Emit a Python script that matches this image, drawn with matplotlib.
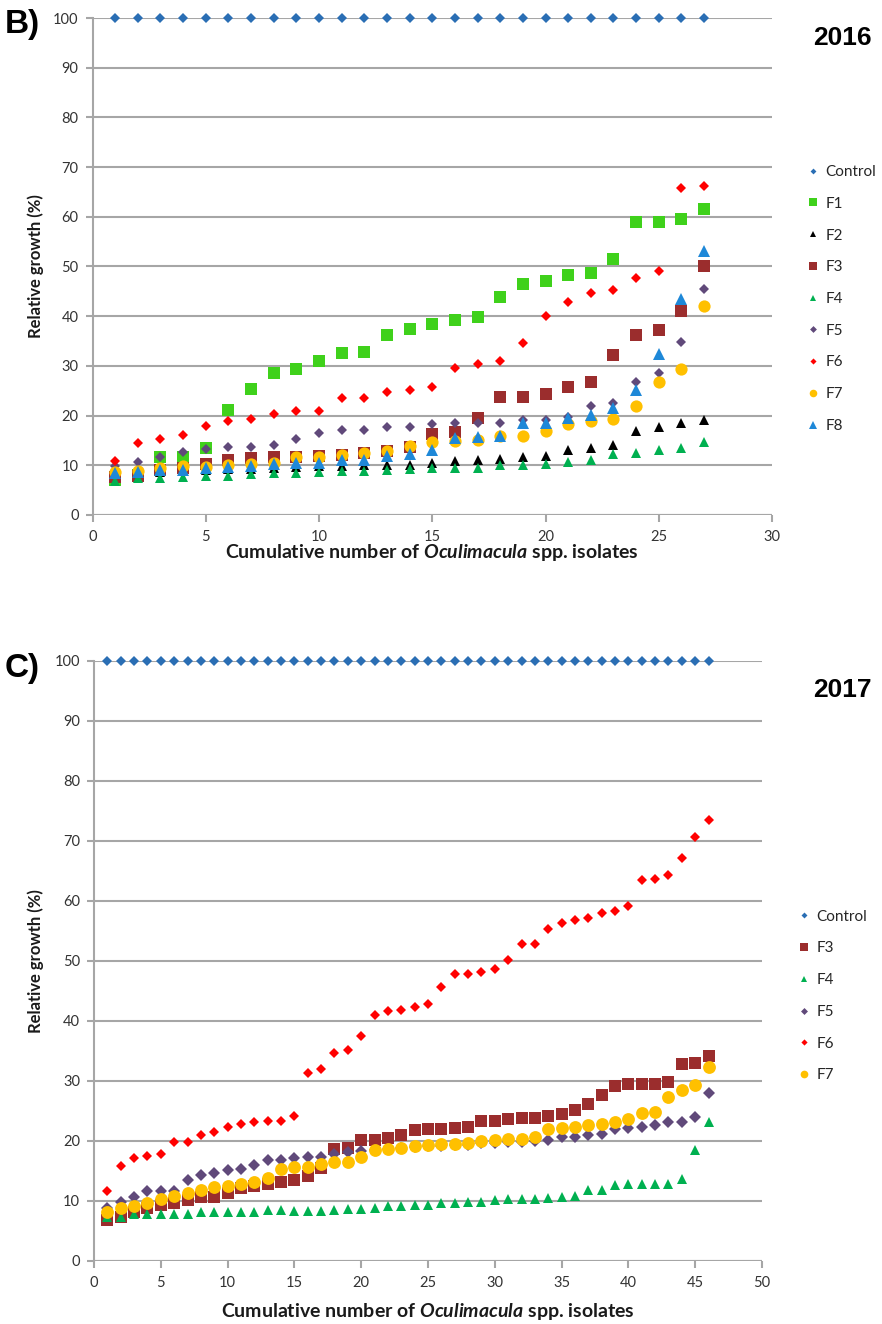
import numpy as np
import matplotlib
matplotlib.use("Agg")
import matplotlib.pyplot as plt

plt.rcParams['font.family'] = ['Lato', 'DejaVu Sans']
# bold italic genus name inside the bold axis title
plt.rcParams['mathtext.fontset'] = 'custom'
plt.rcParams['mathtext.it'] = 'Lato:italic:bold'
plt.rcParams['mathtext.rm'] = 'Lato:bold'

# ---- 2016 isolates ----
control_2016 = [100] * 27
f1_2016 = [7.0, 8.1, 11.6, 11.6, 13.4, 21.2, 25.3, 28.5, 29.3, 30.9, 32.5, 32.8, 36.2, 37.5,
           38.5, 39.3, 39.8, 43.8, 46.5, 47.0, 48.3, 48.7, 51.5, 58.9, 58.9, 59.5, 61.5]
f2_2016 = [8.0, 8.3, 8.6, 8.8, 9.0, 9.2, 9.3, 9.5, 9.6, 9.8, 9.9, 10.0, 10.1, 10.1,
           10.5, 10.8, 11.0, 11.2, 11.7, 11.9, 13.0, 13.5, 14.0, 17.0, 17.8, 18.5, 19.1]
f3_2016 = [7.7, 7.9, 9.1, 9.4, 10.3, 11.1, 11.4, 11.7, 11.7, 11.9, 12.1, 12.4, 12.8, 13.6,
           16.3, 16.6, 19.6, 23.7, 23.7, 24.3, 25.8, 26.8, 32.1, 36.2, 37.2, 41.0, 50.0]
f4_2016 = [6.9, 7.4, 7.4, 7.7, 7.9, 7.9, 8.2, 8.4, 8.5, 8.6, 8.9, 8.9, 9.1, 9.2,
           9.5, 9.5, 9.5, 10.0, 10.1, 10.3, 10.7, 11.1, 12.2, 12.5, 13.0, 13.5, 14.6]
f5_2016 = [9.9, 10.7, 11.6, 12.6, 13.2, 13.6, 13.6, 14.1, 15.2, 16.4, 17.1, 17.1, 17.8, 17.8,
           18.3, 18.5, 18.5, 18.5, 19.1, 19.1, 19.8, 21.9, 22.6, 26.8, 28.6, 34.8, 45.4]
f6_2016 = [10.9, 14.4, 15.3, 16.1, 17.9, 19.0, 19.3, 20.4, 20.9, 20.9, 23.5, 23.5, 24.8, 25.2,
           25.7, 29.6, 30.3, 30.9, 34.6, 40.1, 42.8, 44.7, 45.2, 47.7, 49.0, 65.7, 66.1]
f7_2016 = [8.7, 8.9, 9.4, 9.9, 9.7, 10.1, 10.3, 10.5, 11.7, 11.7, 12.1, 12.4, 12.8, 13.8,
           14.6, 14.8, 15.1, 15.8, 15.8, 16.9, 18.3, 18.9, 19.3, 22.0, 26.8, 29.3, 42.0]
f8_2016 = [8.4, 8.7, 9.1, 9.1, 9.4, 9.7, 9.9, 10.3, 10.4, 10.5, 11.1, 11.1, 11.9, 12.3,
           13.1, 15.5, 15.6, 15.8, 18.6, 18.6, 19.6, 20.1, 21.6, 25.2, 32.3, 43.4, 53.1]

# ---- 2017 isolates ----
control_2017 = [100] * 46
f3_2017 = [6.9, 7.4, 8.2, 8.8, 9.3, 9.6, 10.2, 10.6, 10.6, 11.4, 12.2, 12.5, 12.8, 13.2, 13.5,
           14.2, 15.5, 18.6, 18.9, 20.2, 20.2, 20.5, 21.0, 21.8, 22.0, 22.0, 22.2, 22.4, 23.4,
           23.4, 23.6, 23.8, 23.8, 24.1, 24.5, 25.1, 26.1, 27.6, 29.1, 29.5, 29.5, 29.5, 29.9,
           32.8, 33.0, 34.2]
f4_2017 = [7.4, 7.4, 7.8, 7.8, 7.9, 7.9, 7.9, 8.2, 8.2, 8.1, 8.1, 8.1, 8.5, 8.5, 8.4,
           8.4, 8.4, 8.5, 8.6, 8.6, 8.9, 9.1, 9.1, 9.3, 9.4, 9.7, 9.7, 9.9, 9.9,
           10.1, 10.3, 10.4, 10.4, 10.5, 10.7, 10.9, 11.9, 11.8, 12.7, 12.9, 12.9, 12.9, 12.8,
           13.6, 18.5, 23.1]
f5_2017 = [8.9, 9.9, 10.6, 11.7, 11.7, 11.7, 13.5, 14.3, 14.7, 15.2, 15.3, 16.0, 16.8, 16.9, 17.2,
           17.3, 17.3, 17.9, 18.2, 18.4, 18.5, 18.7, 18.9, 19.0, 19.1, 19.2, 19.3, 19.4, 19.6,
           19.7, 19.8, 19.9, 20.0, 20.2, 20.6, 20.7, 21.0, 21.2, 22.0, 22.2, 22.4, 22.6, 23.2,
           23.2, 24.0, 28.0]
f6_2017 = [11.6, 15.9, 17.2, 17.5, 17.9, 19.8, 19.8, 21.0, 21.5, 22.3, 22.9, 23.1, 23.3, 23.4, 24.1,
           31.4, 32.0, 34.6, 35.2, 37.5, 41.0, 41.7, 41.9, 42.3, 42.9, 45.7, 47.8, 47.9, 48.2,
           48.6, 50.2, 52.8, 52.8, 55.4, 56.3, 56.9, 57.2, 58.0, 58.3, 59.1, 63.5, 63.7, 64.4,
           67.2, 70.7, 73.5]
f7_2017 = [8.2, 8.8, 9.2, 9.7, 10.4, 10.8, 11.3, 11.9, 12.3, 12.5, 12.8, 13.2, 13.8, 15.3, 15.6,
           15.7, 16.1, 16.5, 16.5, 17.3, 18.5, 18.6, 18.9, 19.1, 19.3, 19.5, 19.5, 19.7, 20.0,
           20.2, 20.3, 20.3, 20.7, 22.0, 22.2, 22.4, 22.6, 22.8, 23.1, 23.6, 24.7, 24.9, 27.3,
           28.5, 29.3, 32.4]

y_ticks = [0, 10, 20, 30, 40, 50, 60, 70, 80, 90, 100]

# marker style per treatment: (marker, colour, size in points)
STYLE = {
    'Control': ('D', '#2A6EB4', 4.8),
    'F1': ('s', '#3FD11B', 8.6),
    'F2': ('^', '#000000', 7.4),
    'F3': ('s', '#9B2D2D', 8.6),
    'F4': ('^', '#00B050', 7.4),
    'F5': ('D', '#60497A', 5.6),
    'F6': ('D', '#FF0000', 5.0),
    'F7': ('o', '#FFC000', 8.8),
    'F8': ('^', '#1E88D8', 8.6),
}

W, H = 882, 1324
fig = plt.figure(figsize=(W / 100, H / 100), dpi=100)


def px_axes(x0, x1, y_top, y_bot):
    return fig.add_axes([x0 / W, 1 - y_bot / H, (x1 - x0) / W, (y_bot - y_top) / H])


GRID = '#A6A6A6'
TXT = '#333333'


def style_axes(ax, xmax, xstep, ylab_x, xlab_y):
    ax.set_xlim(0, xmax)
    ax.set_ylim(0, 100)
    ax.set_yticks(y_ticks)
    ax.set_xticks(np.arange(0, xmax + 1, xstep))
    ax.yaxis.grid(True, color=GRID, linewidth=1.5)
    ax.set_axisbelow(True)
    for s in ('top', 'right', 'bottom'):
        ax.spines[s].set_visible(False)
    ax.spines['left'].set_color(GRID)
    ax.spines['left'].set_linewidth(1.5)
    ax.axhline(0, color=GRID, linewidth=1.5, zorder=1)
    ax.tick_params(axis='both', colors=GRID, width=1.5, length=5, labelcolor=TXT,
                   labelsize=10.5)
    ax.tick_params(axis='y', pad=5)
    ax.tick_params(axis='x', pad=6)
    ax.set_ylabel('Relative growth (%)', fontsize=12, fontweight='bold', color='#1a1a1a',
                  va='center')
    ax.yaxis.set_label_coords(ylab_x, 0.5)
    ax.set_xlabel('Cumulative number of $\\it{Oculimacula}$ spp. isolates', fontsize=14,
                  fontweight='bold', color='#1a1a1a', va='center')
    ax.xaxis.set_label_coords(0.5, xlab_y)


def draw(ax, series, scale=1.0):
    handles = []
    for name, vals in series:
        m, c, s = STYLE[name]
        x = np.arange(1, len(vals) + 1)
        h, = ax.plot(x, vals, linestyle='none', marker=m, color=c, markersize=s * scale,
                     markeredgewidth=0, label=name, clip_on=False)
        handles.append(h)
    return handles


LEG = dict(frameon=False, fontsize=11, handlelength=0.8, handletextpad=0.4,
           labelspacing=1.16, borderpad=0, borderaxespad=0, labelcolor='#262626')

# ---- panel B: 2016 ----
ax1 = px_axes(92.5, 772, 18, 515)
style_axes(ax1, 30, 5, (36 - 92.5) / 679.5, (515 - 553) / 497)
h1 = draw(ax1, [('Control', control_2016), ('F1', f1_2016), ('F2', f2_2016),
                ('F3', f3_2016), ('F4', f4_2016), ('F5', f5_2016), ('F6', f6_2016),
                ('F7', f7_2016), ('F8', f8_2016)])
fig.legend(handles=h1, loc='center left', bbox_to_anchor=(807 / W, 1 - 299 / H),
           markerscale=0.62, **LEG)
fig.text(5 / W, 1 - 25 / H, 'B)', fontsize=24, fontweight='bold', va='center', ha='left',
         family=['Liberation Sans', 'DejaVu Sans'])
fig.text(872 / W, 1 - 38 / H, '2016', fontsize=19, fontweight='bold', va='center',
         ha='right', family=['Liberation Sans', 'DejaVu Sans'])

# ---- panel C: 2017 ----
ax2 = px_axes(94, 762, 661, 1261)
style_axes(ax2, 50, 5, (36 - 94) / 668, (1261 - 1311) / 600)
h2 = draw(ax2, [('Control', control_2017), ('F3', f3_2017), ('F4', f4_2017),
                ('F5', f5_2017), ('F6', f6_2017), ('F7', f7_2017)], scale=1.05)
fig.legend(handles=h2, loc='center left', bbox_to_anchor=(798 / W, 1 - 996 / H),
           markerscale=0.6, **LEG)
fig.text(5 / W, 1 - 668 / H, 'C)', fontsize=24, fontweight='bold', va='center', ha='left',
         family=['Liberation Sans', 'DejaVu Sans'])
fig.text(872 / W, 1 - 690 / H, '2017', fontsize=19, fontweight='bold', va='center',
         ha='right', family=['Liberation Sans', 'DejaVu Sans'])

fig.savefig('out.png', dpi=100, facecolor='white')
